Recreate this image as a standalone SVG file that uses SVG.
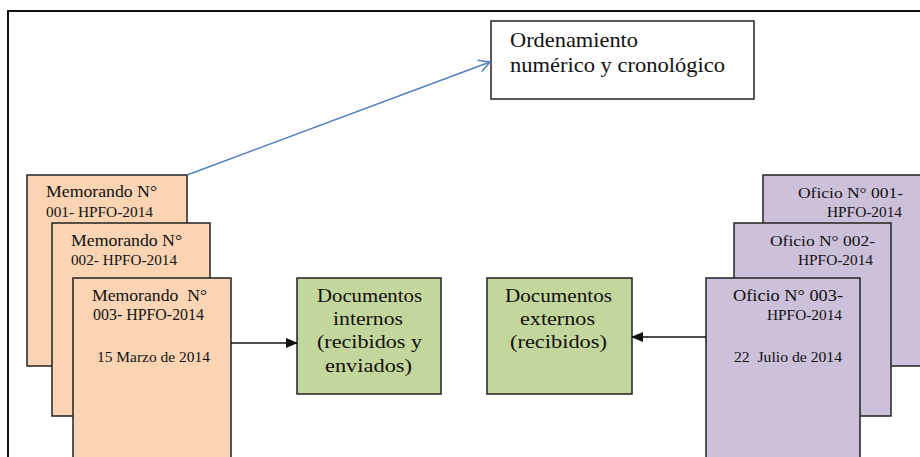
<svg xmlns="http://www.w3.org/2000/svg" width="920" height="457" viewBox="0 0 920 457">
<defs>
<style>
.frame{fill:none;stroke:#111;stroke-width:2}
.memo{fill:#FBD4B4;stroke:#222;stroke-width:1.5}
.ofi{fill:#CCC0DA;stroke:#222;stroke-width:1.5}
.grn{fill:#C3D69B;stroke:#222;stroke-width:1.5}
.wht{fill:#fff;stroke:#222;stroke-width:1.5}
text{font-family:"Liberation Serif","Times New Roman",serif;fill:#111}
.s15{font-size:16px}
.s14{font-size:15px}
.s13{font-size:14px}
.s18{font-size:19px}
.s20{font-size:21px}
.blk{stroke:#111;stroke-width:1.5;fill:none}
.blu{stroke:#4F81BD;stroke-width:1.5;fill:none}
</style>
<marker id="ah" markerWidth="12" markerHeight="12" refX="11" refY="6" orient="auto" markerUnits="userSpaceOnUse">
<path d="M0,1 L12,6 L0,11 Z" fill="#111"/>
</marker>
<marker id="ob" markerWidth="14" markerHeight="14" refX="12" refY="7" orient="auto" markerUnits="userSpaceOnUse">
<path d="M1,1 L12,7 L1,13" fill="none" stroke="#4F81BD" stroke-width="1.5"/>
</marker>
</defs>
<rect x="0" y="0" width="920" height="457" fill="#fff"/>
<rect class="frame" x="8" y="11" width="930" height="460"/>

<g id="memo1">
<rect class="memo" x="27" y="175" width="160" height="191"/>
<text class="s15" x="46" y="197" textLength="111" lengthAdjust="spacingAndGlyphs">Memorando N°</text>
<text class="s14" x="46" y="217" textLength="107" lengthAdjust="spacingAndGlyphs">001- HPFO-2014</text>
</g>
<g id="memo2">
<rect class="memo" x="52" y="223" width="158" height="193"/>
<text class="s15" x="71" y="246" textLength="111" lengthAdjust="spacingAndGlyphs">Memorando N°</text>
<text class="s14" x="71" y="265" textLength="106" lengthAdjust="spacingAndGlyphs">002- HPFO-2014</text>
</g>
<g id="memo3">
<rect class="memo" x="73" y="278" width="158" height="190"/>
<text class="s15" x="92" y="301" textLength="115" lengthAdjust="spacingAndGlyphs" xml:space="preserve">Memorando  N°</text>
<text class="s15" x="93" y="320" textLength="111" lengthAdjust="spacingAndGlyphs">003- HPFO-2014</text>
<text class="s13" x="97" y="362" textLength="113" lengthAdjust="spacingAndGlyphs">15 Marzo de 2014</text>
</g>

<g id="oficio1">
<rect class="ofi" x="763" y="175" width="170" height="191"/>
<text class="s14" x="798" y="198" textLength="105" lengthAdjust="spacingAndGlyphs">Oficio N° 001-</text>
<text class="s14" x="827" y="217" textLength="75" lengthAdjust="spacingAndGlyphs">HPFO-2014</text>
</g>
<g id="oficio2">
<rect class="ofi" x="734" y="223" width="157" height="193"/>
<text class="s14" x="770" y="246" textLength="105" lengthAdjust="spacingAndGlyphs">Oficio N° 002-</text>
<text class="s14" x="798" y="265" textLength="75" lengthAdjust="spacingAndGlyphs">HPFO-2014</text>
</g>
<g id="oficio3">
<rect class="ofi" x="706" y="278" width="154" height="190"/>
<text class="s15" x="733" y="301" textLength="110" lengthAdjust="spacingAndGlyphs">Oficio N° 003-</text>
<text class="s14" x="767" y="320" textLength="75" lengthAdjust="spacingAndGlyphs">HPFO-2014</text>
<text class="s13" x="734" y="362" textLength="108" lengthAdjust="spacingAndGlyphs" xml:space="preserve">22  Julio de 2014</text>
</g>

<g id="internos">
<rect class="grn" x="297" y="278" width="144" height="116"/>
<text class="s18" x="317" y="302" textLength="105" lengthAdjust="spacingAndGlyphs">Documentos</text>
<text class="s18" x="333" y="325" textLength="70" lengthAdjust="spacingAndGlyphs">internos</text>
<text class="s18" x="317" y="348" textLength="105" lengthAdjust="spacingAndGlyphs">(recibidos y</text>
<text class="s18" x="325" y="372" textLength="87" lengthAdjust="spacingAndGlyphs">enviados)</text>
</g>
<g id="externos">
<rect class="grn" x="487" y="278" width="145" height="116"/>
<text class="s18" x="505" y="302" textLength="107" lengthAdjust="spacingAndGlyphs">Documentos</text>
<text class="s18" x="520" y="325" textLength="75" lengthAdjust="spacingAndGlyphs">externos</text>
<text class="s18" x="510" y="348" textLength="97" lengthAdjust="spacingAndGlyphs">(recibidos)</text>
</g>
<g id="ordenamiento">
<rect class="wht" x="491" y="21" width="263" height="78"/>
<text class="s20" x="510" y="47" textLength="128" lengthAdjust="spacingAndGlyphs">Ordenamiento</text>
<text class="s20" x="510" y="72" textLength="215" lengthAdjust="spacingAndGlyphs">numérico y cronológico</text>
</g>

<g id="connectors">
<line class="blk" x1="231" y1="343" x2="297" y2="343" marker-end="url(#ah)"/>
<line class="blk" x1="706" y1="337" x2="632" y2="337" marker-end="url(#ah)"/>
<line class="blu" x1="187" y1="175" x2="490" y2="62" marker-end="url(#ob)"/>
</g>
</svg>
